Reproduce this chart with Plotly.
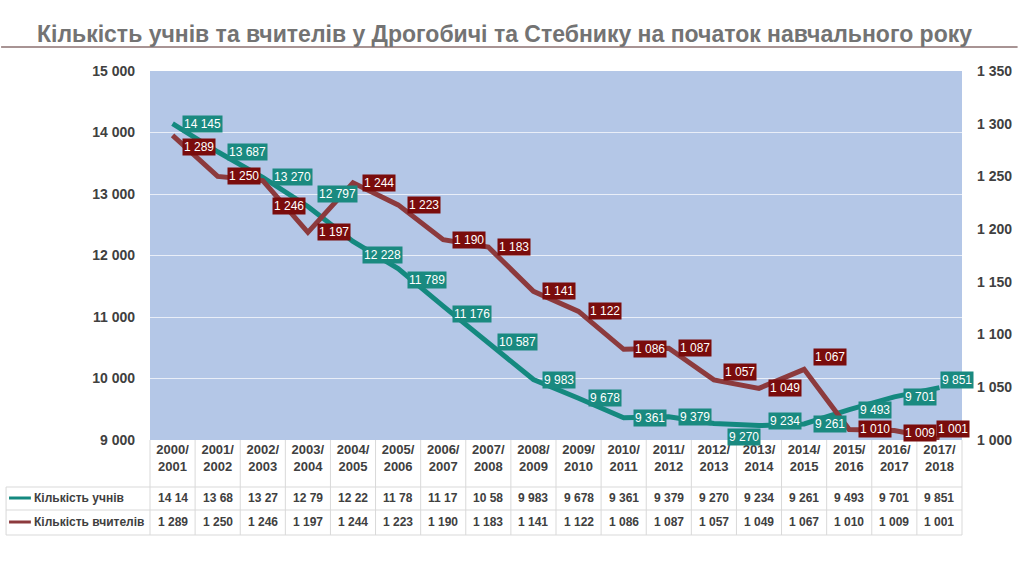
import plotly.graph_objects as go

years = ["2000/<br>2001", "2001/<br>2002", "2002/<br>2003", "2003/<br>2004", "2004/<br>2005",
         "2005/<br>2006", "2006/<br>2007", "2007/<br>2008", "2008/<br>2009", "2009/<br>2010",
         "2010/<br>2011", "2011/<br>2012", "2012/<br>2013", "2013/<br>2014", "2014/<br>2015",
         "2015/<br>2016", "2016/<br>2017", "2017/<br>2018"]
students = [14145, 13687, 13270, 12797, 12228, 11789, 11176, 10587, 9983, 9678,
            9361, 9379, 9270, 9234, 9261, 9493, 9701, 9851]
teachers = [1289, 1250, 1246, 1197, 1244, 1223, 1190, 1183, 1141, 1122,
            1086, 1087, 1057, 1049, 1067, 1010, 1009, 1001]
name_students = "Кількість учнів"
name_teachers = "Кількість вчителів"
title = "Кількість учнів та вчителів у Дрогобичі та Стебнику на початок навчального року"

TEAL = "#14897f"
TEAL_BOX = "#1a8a80"
RED = "#8c3a3d"
RED_BOX = "#7a0c0c"
GREY = "#404040"
FONT = "Liberation Sans Narrow, Liberation Sans, Arial"

W, H = 1024, 576
L, R, T, B = 150, 968, 71, 440


def px(x):
    return (x - L) / (R - L)


def py(y):
    return (B - y) / (B - T)


def fmt(v):
    return f"{v:,}".replace(",", " ")


xs = list(range(len(years)))

fig = go.Figure()
fig.add_trace(go.Scatter(x=xs, y=students, mode="lines", name=name_students,
                         line=dict(color=TEAL, width=5),
                         yaxis="y", showlegend=False, hoverinfo="skip"))
fig.add_trace(go.Scatter(x=xs, y=teachers, mode="lines", name=name_teachers,
                         line=dict(color=RED, width=5),
                         yaxis="y2", showlegend=False, hoverinfo="skip"))

annotations = []
shapes = []

# data label offsets (pixels) – style only
s_off = {3: (0, 12), 4: (0, -14), 5: (0, -12), 6: (0, -8), 12: (4, -14), 13: (0, 5), 17: (-8, 8)}
t_off = {0: (0, -12), 2: (0, -25), 12: (0, 8), 14: (0, 12), 16: (0, -2), 17: (-12, 10)}

for i, v in enumerate(students):
    dx, dy = s_off.get(i, (0, 0))
    annotations.append(dict(x=i, y=v, xref="x", yref="y", text=fmt(v), showarrow=False,
                            xanchor="left", yanchor="middle", xshift=9 + dx, yshift=dy,
                            bgcolor=TEAL_BOX, borderpad=1,
                            font=dict(family=FONT, size=12, color="white")))
for i, v in enumerate(teachers):
    dx, dy = t_off.get(i, (0, 0))
    annotations.append(dict(x=i, y=v, xref="x", yref="y2", text=fmt(v), showarrow=False,
                            xanchor="left", yanchor="middle", xshift=9 + dx, yshift=dy,
                            bgcolor=RED_BOX, borderpad=1,
                            font=dict(family=FONT, size=12, color="white")))

# title
annotations.append(dict(x=px(507), y=py(34), xref="paper", yref="paper", text=f"<b>{title}</b>",
                        showarrow=False, xanchor="center", yanchor="middle",
                        font=dict(family=FONT, size=23, color="#737373")))
shapes.append(dict(type="line", xref="paper", yref="paper", x0=px(0), x1=px(1024),
                   y0=py(47), y1=py(47), line=dict(color="#a89494", width=2)))

# data table
grid_c = "#d9d9d9"
row_tops = [487, 510, 535]
for yy in row_tops:
    shapes.append(dict(type="line", xref="paper", yref="paper", x0=px(5), x1=px(R),
                       y0=py(yy), y1=py(yy), line=dict(color=grid_c, width=1)))
for k in range(len(years) + 1):
    xx = L + (R - L) * k / len(years)
    shapes.append(dict(type="line", xref="paper", yref="paper", x0=px(xx), x1=px(xx),
                       y0=py(440), y1=py(535), line=dict(color=grid_c, width=1)))
shapes.append(dict(type="line", xref="paper", yref="paper", x0=px(5), x1=px(5),
                   y0=py(487), y1=py(535), line=dict(color=grid_c, width=1)))


def table_text(v):
    s = fmt(v)
    return s[:-1] if v >= 10000 else s


for row_y, vals, name, col, fn in [(498, students, name_students, TEAL, table_text),
                                   (522, teachers, name_teachers, RED, fmt)]:
    shapes.append(dict(type="line", xref="paper", yref="paper", x0=px(8), x1=px(30),
                       y0=py(row_y), y1=py(row_y), line=dict(color=col, width=3)))
    annotations.append(dict(x=px(31), y=py(row_y), xref="paper", yref="paper", text=f"<b>{name}</b>",
                            showarrow=False, xanchor="left", yanchor="middle",
                            font=dict(family=FONT, size=12, color=GREY)))
    for i, v in enumerate(vals):
        annotations.append(dict(x=i, y=py(row_y), xref="x", yref="paper", text=f"<b>{fn(v)}</b>",
                                showarrow=False, xanchor="center", yanchor="middle",
                                font=dict(family=FONT, size=12, color=GREY)))

fig.update_layout(
    width=W, height=H,
    margin=dict(l=L, r=W - R, t=T, b=H - B),
    paper_bgcolor="white",
    plot_bgcolor="#b4c7e7",
    separators=". ",
    xaxis=dict(range=[-0.5, len(years) - 0.5], tickvals=xs, ticktext=[f"<b>{y}</b>" for y in years],
               showgrid=False, zeroline=False, showline=False, ticks="",
               tickfont=dict(family=FONT, size=13, color=GREY), fixedrange=True),
    yaxis=dict(range=[9000, 15000], dtick=1000, tickformat=",d", showgrid=True,
               gridcolor="rgba(255,255,255,0.7)", gridwidth=1, zeroline=False,
               tickfont=dict(family=FONT, size=14, color=GREY, weight="bold"), ticks="",
               ticklabelstandoff=14),
    yaxis2=dict(range=[1000, 1350], dtick=50, tickformat=",d", overlaying="y", side="right",
                showgrid=False, zeroline=False, ticks="",
                tickfont=dict(family=FONT, size=14, color=GREY, weight="bold"), ticklabelstandoff=14),
    annotations=annotations,
    shapes=shapes,
)

fig.write_html("out.html")
